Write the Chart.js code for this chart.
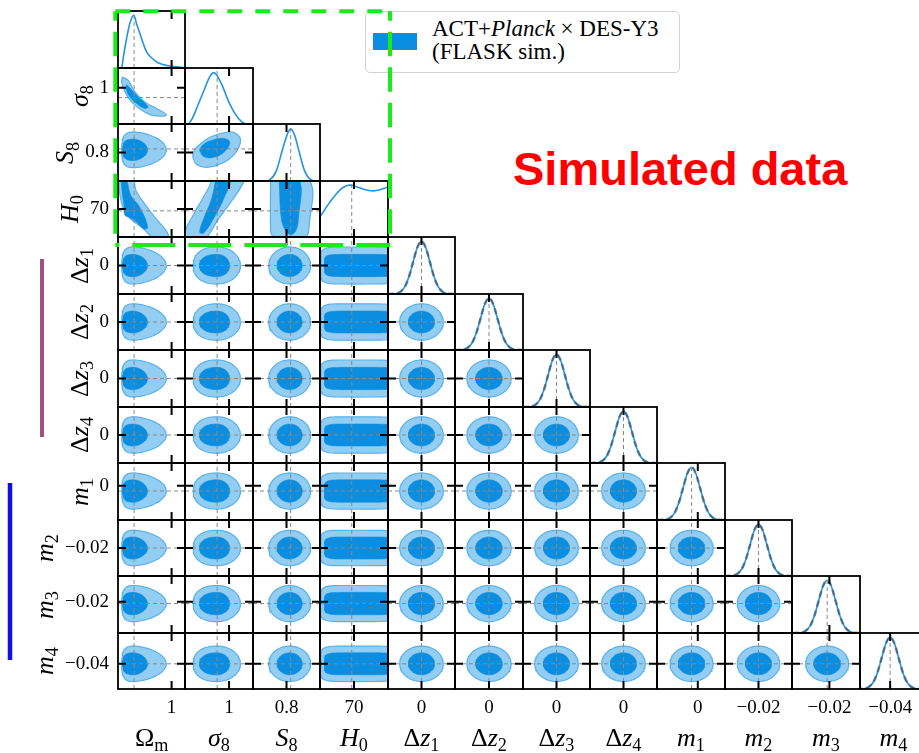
<!DOCTYPE html>
<html>
<head>
<meta charset="utf-8">
<title>ACT+Planck x DES-Y3 triangle plot</title>
<script src="https://cdn.jsdelivr.net/npm/chart.js@4.4.1/dist/chart.umd.min.js"></script>
<style>
  html, body { margin: 0; padding: 0; background: #fff; }
  #stage { position: relative; width: 919px; height: 753px; overflow: hidden;
           font-family: 'Liberation Serif', 'DejaVu Serif', serif; color: #000; }
  #stage canvas { position: absolute; }
  .axis-title { position: absolute; font-size: 26px; line-height: 26px; white-space: nowrap; }
  .axis-title sub { font-size: 0.7em; vertical-align: -0.3em; line-height: 0; }
  #legend { position: absolute; left: 365px; top: 11px; width: 313px; height: 60px;
            border: 1.5px solid #d2d2d2; border-radius: 5px; background: rgba(255,255,255,0.85); }
  #legend .patch { position: absolute; left: 7px; top: 21px; width: 44px; height: 17px; background: #0b8de0; }
  #legend .text { position: absolute; left: 66px; top: 5px; font-size: 23px; line-height: 23.3px; white-space: nowrap; }
  #note { position: absolute; left: 513px; top: 145px; font-family: 'Liberation Sans', Arial, sans-serif;
          font-weight: bold; font-size: 47px; line-height: 47px; color: #ff0000; white-space: nowrap; }
  #overlay { position: absolute; left: 0; top: 0; }
</style>
</head>
<body>
<div id="stage">
  <div id="legend"><span class="patch"></span><div class="text" id="legend-text"></div></div>
  <div id="note"></div>
</div>
<script>
// ---- parameters (rows / columns of the triangle) ----
const PARAM_LABELS = ['Ω<sub>m</sub>', '<i>σ</i><sub>8</sub>', '<i>S</i><sub>8</sub>', '<i>H</i><sub>0</sub>',
  'Δ<i>z</i><sub>1</sub>', 'Δ<i>z</i><sub>2</sub>', 'Δ<i>z</i><sub>3</sub>', 'Δ<i>z</i><sub>4</sub>',
  '<i>m</i><sub>1</sub>', '<i>m</i><sub>2</sub>', '<i>m</i><sub>3</sub>', '<i>m</i><sub>4</sub>'];
const AXIS_MIN = [0, 0.3, 0.64, 40, -0.06, -0.06, -0.06, -0.06, -0.036, -0.05, -0.053, -0.067];
const AXIS_MAX = [1.25, 1.38, 0.96, 100, 0.06, 0.06, 0.06, 0.06, 0.024, 0.01, 0.007, -0.007];
const FIDUCIAL = [0.3, 0.81, 0.82, 68, 0, 0, 0, 0, -0.0055, -0.02, -0.022, -0.04];
const TICK_VALUES = [1, 1, 0.8, 70, 0, 0, 0, 0, 0, -0.02, -0.02, -0.04];
const TICK_LABELS = ['1', '1', '0.8', '70', '0', '0', '0', '0', '0', '−0.02', '−0.02', '−0.04'];

// 2D contour extents around the contour centre: 95% and 68%, low / high side
const CONTOUR_CENTER = [0.3, 0.81, 0.815, 70, 0, 0, 0, 0, -0.0055, -0.02, -0.022, -0.04];
const C95_LOW  = [0.23, 0.38, 0.10, 29.5, 0.039, 0.039, 0.039, 0.039, 0.019, 0.019, 0.019, 0.019];
const C95_HIGH = [0.60, 0.37, 0.10, 40, 0.039, 0.039, 0.039, 0.039, 0.019, 0.019, 0.019, 0.019];
const C68_LOW  = [0.21, 0.28, 0.06, 26, 0.0235, 0.0235, 0.0235, 0.0235, 0.0118, 0.0118, 0.0118, 0.0118];
const C68_HIGH = [0.25, 0.20, 0.06, 40, 0.0235, 0.0235, 0.0235, 0.0235, 0.0118, 0.0118, 0.0118, 0.0118];
const SHAPE_LOW  = [3, 2.3, 2, 6, 2, 2, 2, 2, 2, 2, 2, 2];
const SHAPE_HIGH = [1.6, 2, 2, 6, 2, 2, 2, 2, 2, 2, 2, 2];

// 1D marginals of the cosmological parameters
const OMEGA_M_GRID = [0.02, 0.069, 0.106, 0.161, 0.222, 0.296, 0.346, 0.407, 0.531, 0.624, 0.746, 0.931, 1.18, 1.25];
const OMEGA_M_PDF  = [0.0, 0.02, 0.245, 0.564, 0.85, 1.0, 0.84, 0.66, 0.31, 0.195, 0.1, 0.042, 0.015, 0.005];
const SIGMA8_GRID = [0.3, 0.345, 0.42, 0.505, 0.612, 0.692, 0.756, 0.879, 0.985, 1.092, 1.199, 1.279, 1.38];
const SIGMA8_PDF  = [0, 0.0, 0.12, 0.362, 0.68, 0.909, 0.99, 0.775, 0.457, 0.204, 0.046, 0.0, 0];
const S8_GRID = [0.64, 0.70, 0.72, 0.752, 0.784, 0.808, 0.82, 0.839, 0.863, 0.886, 0.918, 0.94, 0.96];
const S8_PDF  = [0, 0, 0.02, 0.197, 0.641, 0.927, 0.99, 0.864, 0.515, 0.197, 0.02, 0, 0];
const H0_GRID = [40, 40.9, 47, 54.3, 60, 66.1, 72, 78, 86.9, 93, 98.8, 100];
const H0_PDF  = [0.4, 0.42, 0.62, 0.83, 0.95, 1.0, 0.97, 0.925, 0.89, 0.91, 0.955, 0.96];

// nuisance marginals: shared profile (offset in sigma, height) and the width of each
const PROFILE_OFFSETS = [-4, -3.5, -3, -2.5, -2, -1.5, -1, -0.5, 0, 0.5, 1, 1.5, 2, 2.5, 3, 3.5, 4];
const PROFILE_PDF = [0, 0.002, 0.011, 0.044, 0.135, 0.325, 0.607, 0.882, 1, 0.882, 0.607, 0.325, 0.135, 0.044, 0.011, 0.002, 0];
const NUISANCE_SIGMA = [0, 0, 0, 0, 0.015, 0.015, 0.015, 0.015, 0.0075, 0.0075, 0.0075, 0.0075];

// non-elliptical 2D contours
const SIG8_OM_95_X = [0.080, 0.191, 0.315, 0.5, 0.717, 0.902, 0.87, 0.624, 0.439, 0.254, 0.130, 0.069, 0.080];
const SIG8_OM_95_Y = [1.204, 1.14, 0.918, 0.727, 0.6, 0.485, 0.453, 0.472, 0.567, 0.727, 0.918, 1.109, 1.204];
const SIG8_OM_68_X = [0.161, 0.222, 0.376, 0.561, 0.5, 0.346, 0.222, 0.148, 0.161];
const SIG8_OM_68_Y = [1.057, 0.995, 0.823, 0.632, 0.6, 0.695, 0.823, 0.981, 1.057];
const S8_SIG8_95_X = [0.425, 0.484, 0.644, 0.884, 1.092, 1.183, 1.108, 0.98, 0.724, 0.532, 0.436, 0.425];
const S8_SIG8_95_Y = [0.772, 0.732, 0.717, 0.738, 0.794, 0.868, 0.907, 0.915, 0.890, 0.845, 0.806, 0.772];
const S8_SIG8_68_X = [0.532, 0.596, 0.756, 0.932, 1.012, 0.916, 0.724, 0.58, 0.532];
const S8_SIG8_68_Y = [0.811, 0.777, 0.773, 0.806, 0.857, 0.879, 0.868, 0.842, 0.811];
const H0_OM_95_X = [0.019, 0.278, 0.333, 0.463, 0.63, 0.796, 0.926, 0.926, 0.685, 0.463, 0.241, 0.111, 0.037, 0.019, 0.019];
const H0_OM_95_Y = [101.4, 101.4, 89.7, 78.1, 65.4, 53.8, 44.2, 37.9, 37.9, 49.5, 59, 68.6, 84.4, 95, 101.4];
const H0_OM_68_X = [0.056, 0.148, 0.241, 0.407, 0.556, 0.481, 0.352, 0.204, 0.13, 0.111, 0.074, 0.056];
const H0_OM_68_Y = [101.4, 101.4, 84.4, 71.7, 50.6, 48.5, 55.9, 61.2, 63.3, 73.9, 89.7, 101.4];
const H0_SIG8_95_X = [0.724, 1.22, 1.172, 1.012, 0.82, 0.676, 0.628, 0.308, 0.308, 0.42, 0.58, 0.692, 0.724];
const H0_SIG8_95_Y = [101.4, 101.4, 91.8, 76, 58, 42.1, 37.9, 37.9, 47.4, 62.2, 81.3, 95, 101.4];
const H0_SIG8_68_X = [0.788, 1.012, 0.916, 0.756, 0.596, 0.532, 0.612, 0.724, 0.788];
const H0_SIG8_68_Y = [101.4, 101.4, 81.3, 60.1, 44.2, 45.3, 62.2, 81.3, 101.4];
const H0_S8_95_X = [0.724, 0.907, 0.907, 0.9, 0.88, 0.75, 0.73, 0.724, 0.724];
const H0_S8_95_Y = [101.4, 101.4, 48, 42, 39, 39, 42, 48, 101.4];
const H0_S8_68_X = [0.765, 0.86, 0.857, 0.845, 0.82, 0.795, 0.775, 0.765];
const H0_S8_68_Y = [101.4, 101.4, 60, 47, 42.5, 47, 60, 101.4];

const LEGEND_TEXT = 'ACT+<i>Planck</i> × DES-Y3<br>(FLASK sim.)';
const NOTE_TEXT = 'Simulated data';

// ---- layout / style ----
const GRID_LEFT = 118, GRID_TOP = 11, CELL_W = 67.43, CELL_H = 56.52;
const M = 4, Y_AXIS_W = 70, X_AXIS_H = 30, TICK_LEN = 8, Y_TICK_PAD = 9;
const PDF_MAX = 1.08;
const DARK = '#0b8de0', LIGHT = '#93cef2', EDGE = '#58b2ea', LINE_BLUE = '#2394dd';
const TICK_FONT = { family: "'Liberation Serif', serif", size: 19 };

const stage = document.getElementById('stage');
const N = PARAM_LABELS.length;
document.getElementById('legend-text').innerHTML = LEGEND_TEXT;
document.getElementById('note').textContent = NOTE_TEXT;

function colEdge(j) { return Math.round(GRID_LEFT + j * CELL_W); }
function rowEdge(i) { return Math.round(GRID_TOP + i * CELL_H); }
function zipPoints(xs, ys) { return xs.map((x, k) => ({ x: x, y: ys[k] })); }

const SPECIAL = {
  '1,0': [zipPoints(SIG8_OM_95_X, SIG8_OM_95_Y), zipPoints(SIG8_OM_68_X, SIG8_OM_68_Y)],
  '2,1': [zipPoints(S8_SIG8_95_X, S8_SIG8_95_Y), zipPoints(S8_SIG8_68_X, S8_SIG8_68_Y)],
  '3,0': [zipPoints(H0_OM_95_X, H0_OM_95_Y), zipPoints(H0_OM_68_X, H0_OM_68_Y)],
  '3,1': [zipPoints(H0_SIG8_95_X, H0_SIG8_95_Y), zipPoints(H0_SIG8_68_X, H0_SIG8_68_Y)],
  '3,2': [zipPoints(H0_S8_95_X, H0_S8_95_Y), zipPoints(H0_S8_68_X, H0_S8_68_Y)]
};

// contour from the per-parameter extents (rounded, possibly lopsided / boxy)
function contour(px, py, wide) {
  const lowX = wide ? C95_LOW[px] : C68_LOW[px], highX = wide ? C95_HIGH[px] : C68_HIGH[px];
  const lowY = wide ? C95_LOW[py] : C68_LOW[py], highY = wide ? C95_HIGH[py] : C68_HIGH[py];
  const pts = [];
  for (let k = 0; k <= 72; k++) {
    const t = 2 * Math.PI * k / 72;
    const c = Math.cos(t), s = Math.sin(t);
    let ex = c >= 0 ? SHAPE_HIGH[px] : SHAPE_LOW[px];
    let ey = s >= 0 ? SHAPE_HIGH[py] : SHAPE_LOW[py];
    const big = Math.max(ex, ey);
    if (big > 2) { ex = big; ey = big; }
    const ux = Math.sign(c) * Math.pow(Math.abs(c), 2 / ex);
    const uy = Math.sign(s) * Math.pow(Math.abs(s), 2 / ey);
    pts.push({
      x: CONTOUR_CENTER[px] + ux * (c >= 0 ? highX : lowX),
      y: CONTOUR_CENTER[py] + uy * (s >= 0 ? highY : lowY)
    });
  }
  return pts;
}

function marginal(k) {
  if (k === 0) return zipPoints(OMEGA_M_GRID, OMEGA_M_PDF);
  if (k === 1) return zipPoints(SIGMA8_GRID, SIGMA8_PDF);
  if (k === 2) return zipPoints(S8_GRID, S8_PDF);
  if (k === 3) return zipPoints(H0_GRID, H0_PDF);
  return PROFILE_OFFSETS.map((o, n) => ({ x: FIDUCIAL[k] + o * NUISANCE_SIGMA[k], y: PROFILE_PDF[n] }));
}

// inward ticks on all sides + black frame
const framePlugin = {
  id: 'frame',
  afterDatasetsDraw(chart, args, opts) {
    const { ctx, chartArea: a } = chart;
    ctx.save();
    ctx.strokeStyle = '#000';
    ctx.lineWidth = 2;
    ctx.beginPath();
    const xp = chart.scales.x.getPixelForValue(opts.xTick);
    ctx.moveTo(xp, a.bottom); ctx.lineTo(xp, a.bottom - TICK_LEN);
    ctx.moveTo(xp, a.top); ctx.lineTo(xp, a.top + TICK_LEN);
    if (opts.hasY) {
      const yp = chart.scales.y.getPixelForValue(opts.yTick);
      ctx.moveTo(a.left, yp); ctx.lineTo(a.left + TICK_LEN, yp);
      ctx.moveTo(a.right, yp); ctx.lineTo(a.right - TICK_LEN, yp);
    }
    ctx.stroke();
    ctx.lineWidth = 1.8;
    ctx.strokeRect(a.left, a.top, a.right - a.left, a.bottom - a.top);
    ctx.restore();
  }
};

const fidStyle = { borderColor: '#888', borderWidth: 1, borderDash: [4, 3], pointRadius: 0, showLine: true, fill: false, clip: 0 };

function makePanel(i, j) {
  const diag = i === j;
  const showX = i === N - 1;
  const showY = j === 0 && i > 0;
  const cellL = colEdge(j), cellR = colEdge(j + 1), cellT = rowEdge(i), cellB = rowEdge(i + 1);
  const extraL = showY ? Y_AXIS_W : 0, extraB = showX ? X_AXIS_H : 0;
  const canvas = document.createElement('canvas');
  canvas.width = cellR - cellL + 2 * M + extraL;
  canvas.height = cellB - cellT + 2 * M + extraB;
  canvas.style.left = (cellL - M - extraL) + 'px';
  canvas.style.top = (cellT - M) + 'px';
  stage.appendChild(canvas);

  const yMin = diag ? 0 : AXIS_MIN[i], yMax = diag ? PDF_MAX : AXIS_MAX[i];
  let datasets;
  if (diag) {
    const curve = marginal(j);
    datasets = [{ ...fidStyle, data: [{ x: FIDUCIAL[j], y: 0 }, { x: FIDUCIAL[j], y: PDF_MAX }] }];
    if (j >= 4) {
      datasets.push({ data: curve, borderColor: 'rgba(70,82,94,0.6)', borderWidth: 2.6, borderDash: [6, 4],
        pointRadius: 0, showLine: true, fill: false, cubicInterpolationMode: 'monotone', clip: 0 });
    }
    datasets.push({ data: curve, borderColor: LINE_BLUE, borderWidth: 1.6, pointRadius: 0, showLine: true,
      fill: false, cubicInterpolationMode: 'monotone', clip: 0 });
  } else {
    const special = SPECIAL[i + ',' + j];
    const c95 = special ? special[0] : contour(j, i, true);
    const c68 = special ? special[1] : contour(j, i, false);
    const tension = special ? 0.4 : 0;
    datasets = [
      { ...fidStyle, data: [{ x: FIDUCIAL[j], y: yMin }, { x: FIDUCIAL[j], y: yMax }] },
      { ...fidStyle, data: [{ x: AXIS_MIN[j], y: FIDUCIAL[i] }, { x: AXIS_MAX[j], y: FIDUCIAL[i] }] },
      { data: c68, backgroundColor: DARK, borderColor: DARK, borderWidth: 0.6, fill: 'shape',
        showLine: true, pointRadius: 0, tension: tension, clip: 0 },
      { data: c95, backgroundColor: LIGHT, borderColor: EDGE, borderWidth: 1.2, fill: 'shape',
        showLine: true, pointRadius: 0, tension: tension, clip: 0 }
    ];
  }

  new Chart(canvas, {
    type: 'scatter',
    data: { datasets: datasets },
    options: {
      responsive: false,
      animation: false,
      events: [],
      layout: { padding: M, autoPadding: false },
      plugins: {
        legend: { display: false },
        tooltip: { enabled: false },
        frame: { xTick: TICK_VALUES[j], yTick: diag ? 0 : TICK_VALUES[i], hasY: !diag }
      },
      scales: {
        x: {
          type: 'linear', min: AXIS_MIN[j], max: AXIS_MAX[j], display: showX,
          grid: { display: false, drawTicks: false }, border: { display: false },
          ticks: { font: TICK_FONT, color: '#000', padding: 8, maxRotation: 0, autoSkip: false,
                   callback: () => TICK_LABELS[j] },
          afterBuildTicks: s => { s.ticks = [{ value: TICK_VALUES[j] }]; },
          afterFit: s => {
            if (!showX) return;
            s.height = X_AXIS_H; s.paddingLeft = 0; s.paddingRight = 0;
          }
        },
        y: {
          type: 'linear', min: yMin, max: yMax, display: showY,
          grid: { display: false, drawTicks: false }, border: { display: false },
          ticks: { font: TICK_FONT, color: '#000', padding: Y_TICK_PAD, autoSkip: false,
                   callback: () => TICK_LABELS[i] },
          afterBuildTicks: s => { s.ticks = [{ value: TICK_VALUES[i] }]; },
          afterFit: s => {
            if (!showY) return;
            s.width = Y_AXIS_W; s.paddingTop = 0; s.paddingBottom = 0;
          }
        }
      }
    },
    plugins: [framePlugin]
  });
}

for (let i = 0; i < N; i++) {
  for (let j = 0; j <= i; j++) makePanel(i, j);
}

// axis titles
const measure = document.createElement('canvas').getContext('2d');
measure.font = "19px 'Liberation Serif'";
for (let k = 0; k < N; k++) {
  const xt = document.createElement('div');
  xt.className = 'axis-title';
  xt.innerHTML = PARAM_LABELS[k];
  stage.appendChild(xt);
  const cx = (colEdge(k) + colEdge(k + 1)) / 2;
  xt.style.left = (cx - xt.offsetWidth / 2) + 'px';
  xt.style.top = '725px';

  if (k === 0) continue;
  const yt = document.createElement('div');
  yt.className = 'axis-title';
  yt.innerHTML = PARAM_LABELS[k];
  stage.appendChild(yt);
  const w = yt.offsetWidth, h = yt.offsetHeight;
  const tickLeft = GRID_LEFT - Y_TICK_PAD - measure.measureText(TICK_LABELS[k]).width;
  const cxY = tickLeft - 7 - h / 2;
  const cyY = (rowEdge(k) + rowEdge(k + 1)) / 2;
  yt.style.left = (cxY - w / 2) + 'px';
  yt.style.top = (cyY - h / 2) + 'px';
  yt.style.transform = 'rotate(-90deg)';
}

// annotations drawn over the figure
const svgNS = 'http://www.w3.org/2000/svg';
const svg = document.createElementNS(svgNS, 'svg');
svg.setAttribute('id', 'overlay');
svg.setAttribute('width', 919);
svg.setAttribute('height', 753);
function svgLine(x1, y1, x2, y2, color, width, dash, offset) {
  const l = document.createElementNS(svgNS, 'line');
  l.setAttribute('x1', x1); l.setAttribute('y1', y1);
  l.setAttribute('x2', x2); l.setAttribute('y2', y2);
  l.setAttribute('stroke', color); l.setAttribute('stroke-width', width);
  if (dash) { l.setAttribute('stroke-dasharray', dash); l.setAttribute('stroke-dashoffset', offset || 0); }
  svg.appendChild(l);
}
const GREEN = '#1aec1a';
svgLine(115.3, 11.3, 390, 11.3, GREEN, 4, '15 13', 0);
svgLine(115.3, 11.3, 115.3, 245, GREEN, 4, '24.5 11', 15);
svgLine(115.3, 245, 390, 245, GREEN, 4, '43 13', 39);
svgLine(390, 11.3, 390, 245, GREEN, 4, '24.5 11', 15);
svgLine(42, 259, 42, 437, '#a4507c', 4);
svgLine(10, 483, 10, 660, '#1010e6', 4.5);
stage.appendChild(svg);
</script>
</body>
</html>
